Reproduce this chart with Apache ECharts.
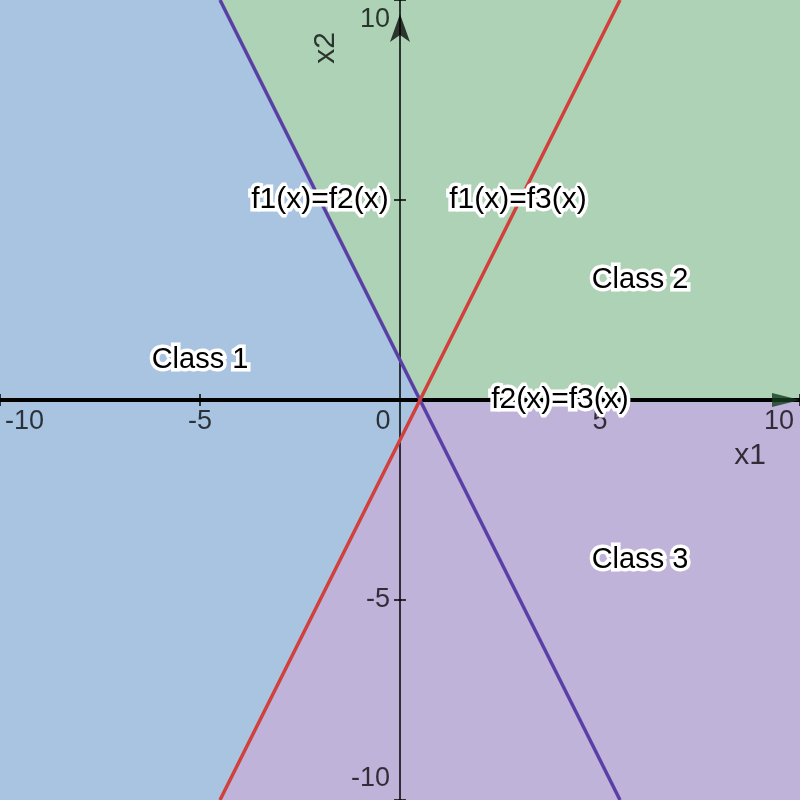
<!DOCTYPE html>
<html><head><meta charset="utf-8">
<script src="https://cdn.jsdelivr.net/npm/echarts@6/dist/echarts.min.js"></script>
<style>html,body{margin:0;padding:0;background:#fff}#c{width:800px;height:800px}</style>
</head><body><div id="c"></div>
<script>
// ---- data ----
const xRange = [-10, 10];
const yRange = [-10, 10];
const xTickValues = [-10, -5, 5, 10];
const yTickValues = [-10, -5, 5, 10];
const class1Region = [[-10, 10], [-4.5, 10], [0.5, 0], [-4.5, -10], [-10, -10]];
const class2Region = [[-4.5, 10], [10, 10], [10, 0], [0.5, 0]];
const class3Region = [[0.5, 0], [10, 0], [10, -10], [-4.5, -10]];
const boundary12 = [[-4.5, 10], [5.5, -10]];   // f1(x)=f2(x)
const boundary13 = [[-4.5, -10], [5.5, 10]];   // f1(x)=f3(x)
const labelNames = ['f1(x)=f2(x)', 'f1(x)=f3(x)', 'Class 2', 'Class 1', 'f2(x)=f3(x)', 'Class 3'];
const labelPos = [[-2.0, 5], [2.95, 5], [6, 3], [-5, 1], [4, 0], [6, -4]];
const axisNames = ['x1', 'x2'];
const axisNamePos = [[8.75, -1.4], [-1.85, 8.8]];

// ---- styles ----
const FONT = 'Liberation Sans, Arial, Helvetica, sans-serif';
const AXIS_DARK = 'rgba(0,0,0,0.75)';
const regionColors = ['#a9c4e0', '#aed2b5', '#bfb3da'];
const LBL = {fontSize: 27, fontFamily: FONT, color: AXIS_DARK};

const el = document.getElementById('c');
const chart = echarts.init(el, null, {renderer: 'canvas'});
const W = chart.getWidth(), H = chart.getHeight();
// move axes onto the zero lines (grid fills the whole canvas)
const xAxisOffset = -H * (0 - yRange[0]) / (yRange[1] - yRange[0]);
const yAxisOffset = -W * (0 - xRange[0]) / (xRange[1] - xRange[0]);

function regionSeries(pts, color) {
  return {
    type: 'custom', z: -1, silent: true, clip: true,
    data: [0],
    renderItem: function (params, api) {
      return {type: 'polygon', shape: {points: pts.map(p => api.coord(p))}, style: {fill: color}};
    }
  };
}

const option = {
  animation: false,
  backgroundColor: '#fff',
  grid: {left: 0, right: 0, top: 0, bottom: 0, containLabel: false, outerBoundsMode: 'none'},
  xAxis: {
    type: 'value', min: xRange[0], max: xRange[1], interval: 5,
    position: 'bottom', offset: xAxisOffset,
    splitLine: {show: false},
    axisTick: {show: false},
    axisLine: {show: true, onZero: false, lineStyle: {color: '#000', width: 4}},
    axisLabel: Object.assign({
      show: true, margin: 8,
      showMinLabel: true, showMaxLabel: true,
      alignMinLabel: 'left', alignMaxLabel: 'right',
      formatter: v => v === 0 ? '{z|0}' : v === xRange[0] ? '{mn|' + v + '}' : v === xRange[1] ? '{mx|' + v + '}' : String(v),
      rich: {
        z: Object.assign({padding: [0, 34, 0, 0]}, LBL),
        mn: Object.assign({padding: [0, 0, 0, 5]}, LBL),
        mx: Object.assign({padding: [0, 6, 0, 0]}, LBL)
      }
    }, LBL)
  },
  yAxis: {
    type: 'value', min: yRange[0], max: yRange[1], interval: 5,
    position: 'left', offset: yAxisOffset,
    splitLine: {show: false},
    axisTick: {show: false},
    axisLine: {show: true, onZero: false, lineStyle: {color: AXIS_DARK, width: 2},
      symbol: ['none', 'arrow'], symbolSize: [15, 28], symbolOffset: [0, -14]},
    axisLabel: Object.assign({
      show: true, margin: 10,
      showMinLabel: true, showMaxLabel: true,
      verticalAlignMinLabel: 'bottom', verticalAlignMaxLabel: 'top',
      formatter: v => v === 0 ? '' : v === yRange[0] ? '{mn|' + v + '}' : v === yRange[1] ? '{mx|' + v + '}' : String(v),
      rich: {
        mn: Object.assign({padding: [0, 0, 8, 0]}, LBL),
        mx: Object.assign({padding: [6, 0, 0, 0]}, LBL)
      }
    }, LBL)
  },
  series: [
    regionSeries(class1Region, regionColors[0]),
    regionSeries(class2Region, regionColors[1]),
    regionSeries(class3Region, regionColors[2]),
    { // tick marks crossing the axes + x arrow head
      type: 'custom', z: 1, silent: true, clip: false,
      data: [0],
      renderItem: function (params, api) {
        const children = [];
        xTickValues.forEach(v => {
          const p = api.coord([v, 0]);
          children.push({type: 'line', shape: {x1: p[0], y1: p[1] - 6, x2: p[0], y2: p[1] + 6},
            style: {stroke: AXIS_DARK, lineWidth: 2}});
        });
        yTickValues.forEach(v => {
          const p = api.coord([0, v]);
          children.push({type: 'line', shape: {x1: p[0] - 6, y1: p[1], x2: p[0] + 6, y2: p[1]},
            style: {stroke: AXIS_DARK, lineWidth: 2}});
        });
        const e = api.coord([xRange[1], 0]);
        children.push({type: 'polygon', shape: {points: [[e[0], e[1]], [e[0] - 28, e[1] - 7], [e[0] - 28, e[1] + 7]]},
          style: {fill: 'rgba(20,60,30,0.8)'}});
        return {type: 'group', children: children};
      }
    },
    {
      type: 'line', data: boundary12, symbol: 'none', z: 3,
      lineStyle: {color: '#5a3fa6', width: 3.5}
    },
    {
      type: 'line', data: boundary13, symbol: 'none', z: 3,
      lineStyle: {color: '#d1403b', width: 3.5}
    },
    { // axis names
      type: 'custom', z: 4, silent: true, clip: false,
      data: axisNamePos,
      renderItem: function (params, api) {
        const p = api.coord([api.value(0), api.value(1)]);
        return {type: 'text', x: p[0], y: p[1], rotation: params.dataIndex === 1 ? Math.PI / 2 : 0,
          style: {text: axisNames[params.dataIndex], fontSize: 30, fontFamily: FONT,
            fill: AXIS_DARK, align: 'center', verticalAlign: 'middle'}};
      }
    },
    {
      type: 'custom', z: 5, silent: true, clip: false,
      data: labelPos,
      renderItem: function (params, api) {
        const p = api.coord([api.value(0), api.value(1)]);
        const name = labelNames[params.dataIndex];
        return {type: 'text', x: p[0], y: p[1],
          style: {text: name, fontSize: name.charAt(0) === 'f' ? 30 : 29, fontFamily: FONT,
            fill: '#000', stroke: '#fff', lineWidth: 7, align: 'center', verticalAlign: 'middle'}};
      }
    }
  ]
};
chart.setOption(option);
</script></body></html>
